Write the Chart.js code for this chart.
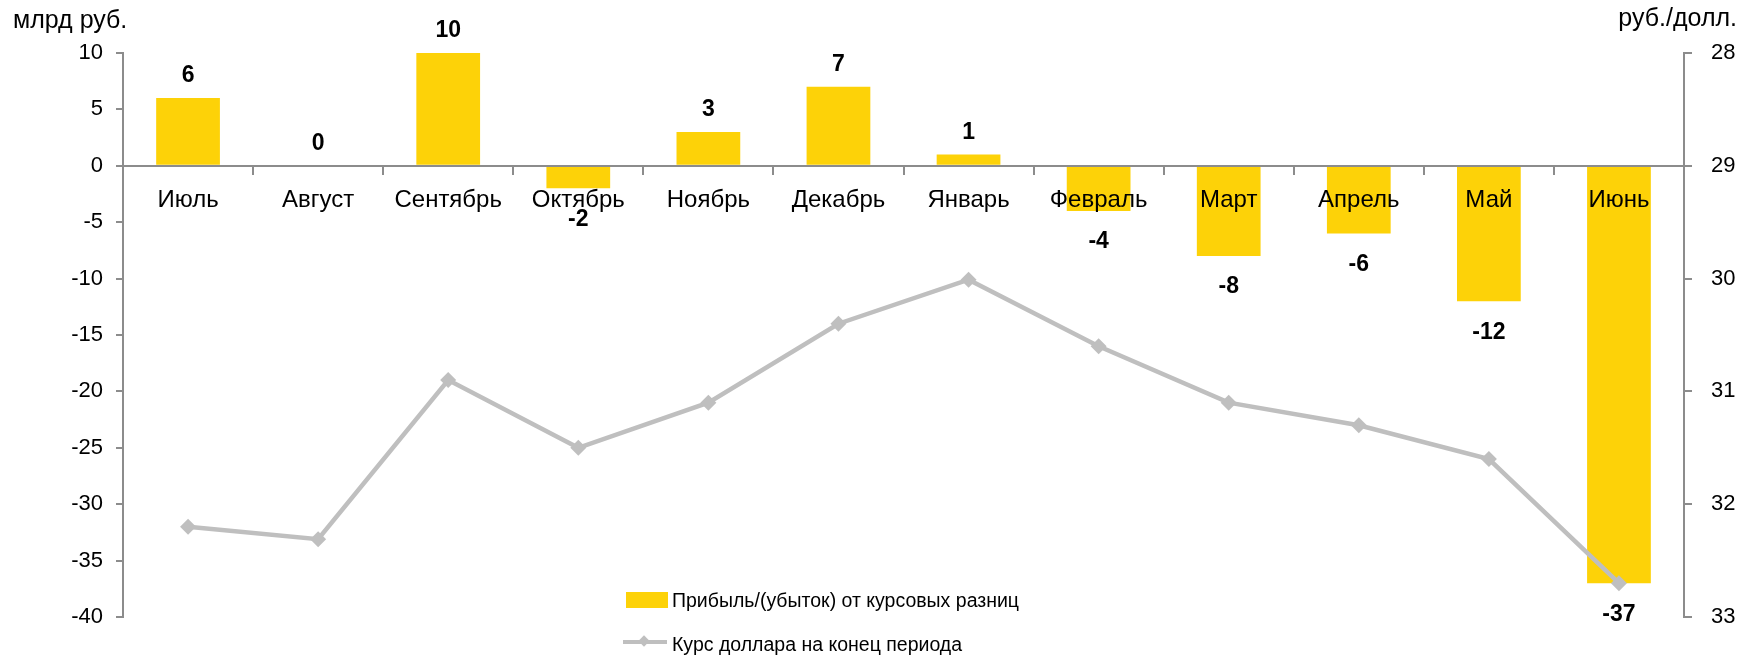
<!DOCTYPE html>
<html>
<head>
<meta charset="utf-8">
<script src="https://cdn.jsdelivr.net/npm/chart.js@4/dist/chart.umd.min.js"></script>
<style>
  html, body { margin: 0; padding: 0; background: #fff; }
  #wrap { position: relative; width: 1750px; height: 660px; font-family: "Liberation Sans", Arial, sans-serif; }
  canvas { position: absolute; left: 0; top: 0; }
  .leg { position: absolute; font-size: 19.5px; color: #000; white-space: nowrap; line-height: 20px; }
</style>
</head>
<body>
<div id="wrap">
  <canvas id="c" width="1750" height="660"></canvas>
  <div style="position:absolute; left:626px; top:592px; width:42px; height:16px; background:#FDD208;"></div>
  <div class="leg" style="left:672px; top:590px;">Прибыль/(убыток) от курсовых разниц</div>
  <div style="position:absolute; left:623px; top:640px; width:44px; height:4px; background:#BFBFBF;"></div>
  <div style="position:absolute; left:640px; top:637px; width:8px; height:8px; background:#BFBFBF; transform:rotate(45deg);"></div>
  <div class="leg" style="left:672px; top:634px;">Курс доллара на конец периода</div>
</div>
<script>
const categories = ["Июль","Август","Сентябрь","Октябрь","Ноябрь","Декабрь","Январь","Февраль","Март","Апрель","Май","Июнь"];
const profitValues = [6, 0, 10, -2, 3, 7, 1, -4, -8, -6, -12, -37];
const usdRate = [32.20, 32.31, 30.90, 31.50, 31.10, 30.40, 30.01, 30.60, 31.10, 31.30, 31.60, 32.70];
const profitLabel = "Прибыль/(убыток) от курсовых разниц";
const rateLabel = "Курс доллара на конец периода";
const leftTitle = "млрд руб.";
const rightTitle = "руб./долл.";

const FONT = "'Liberation Sans', Arial, sans-serif";
const AXIS = "#8C8C8C";

const extras = {
  id: 'extras',
  afterDatasetsDraw(chart) {
    const meta = chart.getDatasetMeta(1);
    const ctx = chart.ctx;
    ctx.save();
    ctx.font = "bold 23px " + FONT;
    ctx.fillStyle = "#000";
    ctx.textAlign = "center";
    ctx.textBaseline = "middle";
    meta.data.forEach((el, i) => {
      const v = profitValues[i];
      const y = v >= 0 ? el.y - 22 : el.y + 31;
      ctx.fillText(String(v), el.x, y);
    });
    ctx.font = "25px " + FONT;
    ctx.textBaseline = "alphabetic";
    ctx.textAlign = "left";
    ctx.fillText(leftTitle, 13, 28);
    ctx.textAlign = "right";
    ctx.fillText(rightTitle, 1737, 26);
    ctx.restore();
  }
};

new Chart(document.getElementById('c'), {
  data: {
    labels: categories,
    datasets: [
      {
        type: 'line',
        label: rateLabel,
        data: usdRate,
        yAxisID: 'y1',
        borderColor: '#BFBFBF',
        backgroundColor: '#BFBFBF',
        borderWidth: 4.5,
        pointStyle: 'rectRot',
        pointRadius: 8,
        pointBorderWidth: 0,
        pointBackgroundColor: '#BFBFBF',
        tension: 0,
        order: 0
      },
      {
        type: 'bar',
        label: profitLabel,
        data: profitValues,
        yAxisID: 'y',
        backgroundColor: '#FDD208',
        barPercentage: 0.49,
        categoryPercentage: 1.0,
        order: 1
      }
    ]
  },
  options: {
    responsive: false,
    animation: false,
    devicePixelRatio: 1,
    layout: { padding: { top: 53, bottom: 43, left: 0, right: 0 } },
    plugins: { legend: { display: false }, tooltip: { enabled: false } },
    scales: {
      x: {
        position: { y: 0 },
        offset: true,
        grid: { z: 1, offset: true, drawOnChartArea: false, drawTicks: true, tickLength: 8, color: AXIS, lineWidth: 2 },
        border: { z: 1, display: true, color: AXIS, width: 2 },
        ticks: { z: 1, color: '#000', font: { family: FONT, size: 24 }, padding: 12, maxRotation: 0, autoSkip: false }
      },
      y: {
        position: 'left',
        min: -40, max: 10,
        afterFit(s) { s.width = 123; },
        grid: { drawOnChartArea: false, drawTicks: true, tickLength: 7, color: AXIS, lineWidth: 2 },
        border: { display: true, color: AXIS, width: 2 },
        ticks: { stepSize: 5, color: '#000', font: { family: FONT, size: 22 }, padding: 13 }
      },
      y1: {
        position: 'right',
        reverse: true,
        min: 28, max: 33,
        afterFit(s) { s.width = 66; },
        grid: { drawOnChartArea: false, drawTicks: true, tickLength: 8, color: AXIS, lineWidth: 2 },
        border: { display: true, color: AXIS, width: 2 },
        ticks: { stepSize: 1, color: '#000', font: { family: FONT, size: 22 }, padding: 19 }
      }
    }
  },
  plugins: [extras]
});
</script>
</body>
</html>
